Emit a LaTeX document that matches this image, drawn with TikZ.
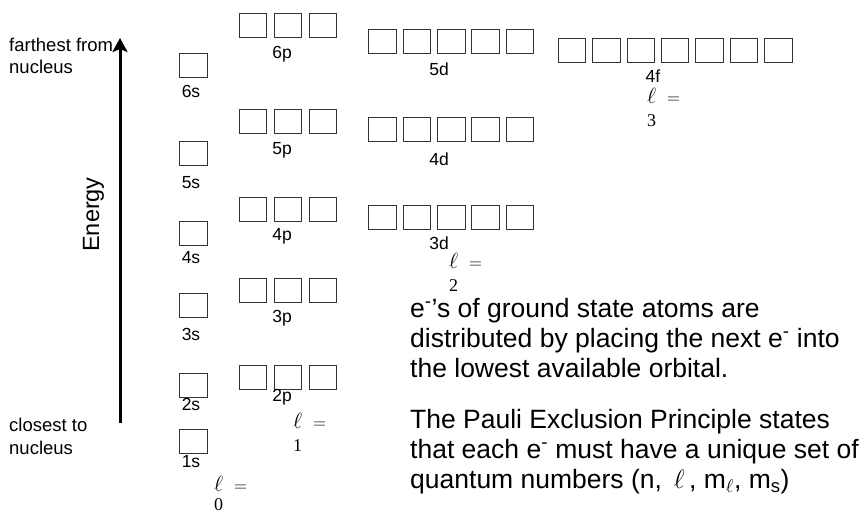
\RequirePackage{fix-cm}
\documentclass[tikz,border=0pt]{standalone}
\usepackage{fontspec}
\setmainfont{Liberation Sans}
\setsansfont{Liberation Sans}
\newfontfamily\lserif{Liberation Serif}
\usetikzlibrary{arrows.meta,positioning}
\definecolor{boxink}{HTML}{333333}

\begin{document}
\begin{tikzpicture}[x=1pt,y=-1pt,
  orb/.style={draw=boxink,line width=1pt,minimum width=27.5pt,
    minimum height=24pt,inner sep=0pt},
  orblab/.style={font=\sffamily\fontsize{17.5}{20}\selectfont,inner sep=0pt},
  side/.style={font=\sffamily\fontsize{18.5}{22.5}\selectfont,align=left,
    anchor=west,inner sep=0pt},
  lval/.style={font=\lserif\fontsize{18}{23}\selectfont,align=left,
    anchor=west,inner sep=0pt},
  energyarr/.style={-{Stealth[length=14pt,width=15pt,inset=3pt]},line width=3pt}
]
\useasboundingbox (0,0) rectangle (864,514);

% energy axis
\coordinate (elow) at (120,423);
\coordinate (ehigh) at (120,38);
\draw[energyarr] (elow) -- (ehigh);
\node[rotate=90,font=\sffamily\fontsize{23.5}{26}\selectfont,inner sep=0pt]
  (energy) at (93.5,214.5) {Energy};
\node[side] (far) at (9,56) {farthest from\\nucleus};
\node[side] (close) at (9,436.5) {closest to\\nucleus};

% s, p, d and f boxes
\foreach \n/\y/\ly in {6/65/91,5/153.5/183,4/233.5/258,3/305/334,2/385/404,1/441/462}{
  \node[orb] (s\n) at (193.5,\y) {};
  \node[orblab] (ls\n) at (191,\ly) {\n s};
}
\foreach \n/\y/\ly in {6/25/54,5/121.5/150,4/209.5/236,3/290/318,2/377.5/397}{
  \foreach \i in {1,2,3}
    \node[orb] (p\n\i) at ({218+35*\i},\y) {};
  \node[orblab] (lp\n) at (282,\ly) {\n p};
}
\foreach \n/\y/\ly in {5/41/69,4/129.5/159,3/217.5/243}{
  \foreach \i in {1,...,5}
    \node[orb] (d\n\i) at ({348.1+34.4*\i},\y) {};
  \node[orblab] (ld\n) at (439,\ly) {\n d};
}
\foreach \i in {1,...,7}
  \node[orb] (f4\i) at ({537.6+34.4*\i},50) {};
\node[orblab] (lf4) at (653,76) {4f};

% l values
\node[lval] (lzero) at (214,493.5)
  {{\fontsize{22}{23}\selectfont$\ell$}\hspace{11pt}$=$\\[-4pt]0};
\node[lval] (lone) at (293,432)
  {{\fontsize{22}{23}\selectfont$\ell$}\hspace{11pt}$=$\\1};
\node[lval] (ltwo) at (449,272)
  {{\fontsize{22}{23}\selectfont$\ell$}\hspace{11pt}$=$\\2};
\node[lval] (lthree) at (647,107.5)
  {{\fontsize{22}{23}\selectfont$\ell$}\hspace{11pt}$=$\\3};

\node[font=\sffamily\fontsize{26.5}{29.8}\selectfont,align=left,
  anchor=north west,inner sep=0pt] (rule) at (410,298)
  {e\textsuperscript{-}'s of ground state atoms are\\
   distributed by placing the next e\textsuperscript{-} into\\
   the lowest available orbital.\\[22pt]
   The Pauli Exclusion Principle states\\
   that each e\textsuperscript{-} must have a unique set of\\
   quantum numbers (n, \,$\ell$\,, m$_\ell$, m\textsubscript{s})};
\end{tikzpicture}
\end{document}
